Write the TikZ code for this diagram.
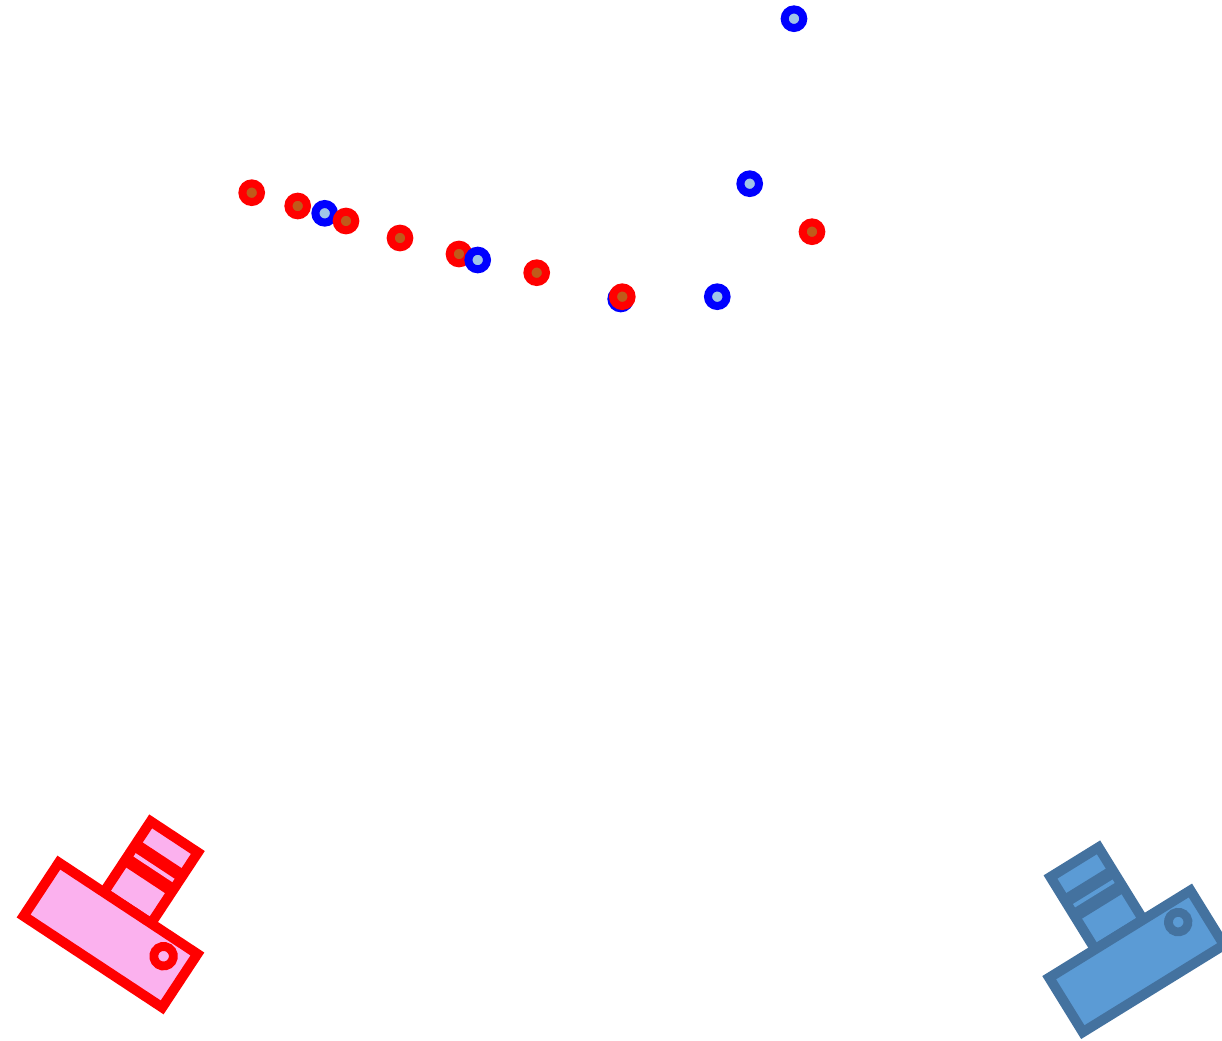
\documentclass[tikz,border=0pt]{standalone}
\begin{document}
\definecolor{camred}{HTML}{FF0000}
\definecolor{campink}{HTML}{FBB1EE}
\definecolor{camsteel}{HTML}{44729F}
\definecolor{camsky}{HTML}{5B9BD5}
\definecolor{dotred}{HTML}{FF0000}
\definecolor{dotrust}{HTML}{C05A1A}
\definecolor{dotblue}{HTML}{0000FF}
\definecolor{dotpale}{HTML}{A0C4E8}
\begin{tikzpicture}[x=0.75pt,y=-0.75pt,
  reddot/.style={circle,inner sep=0pt,minimum size=13.95pt,line width=6pt,draw=dotred,fill=dotrust},
  bluedot/.style={circle,inner sep=0pt,minimum size=13.95pt,line width=6pt,draw=dotblue,fill=dotpale},
  pics/camera/.style 2 args={code={
    % viewfinder housing
    \draw[line width=7.5pt,draw=#1,fill=#2,line join=miter] (-29,-117) rectangle (27.5,-32);
    % divider between the two windows, with its thin light slit
    \fill[#1] (-29,-95) rectangle (27.5,-65);
    \fill[#2] (-24,-82.2) rectangle (22.5,-78.2);
    % main body
    \draw[line width=7.5pt,draw=#1,fill=#2,line join=miter] (-83,-32) rectangle (83,32);
    % lens
    \draw[line width=6.6pt,draw=#1,fill=#2] (56,-11.5) circle (9.8);
  }}]
\useasboundingbox (0,0) rectangle (1222,1041);
\clip (0,0) rectangle (1222,1041);

% cameras
\pic[rotate=-33.4] at (110.5,935) {camera={camred}{campink}};
\pic[rotate=31.7] at (1136.6,961.3) {camera={camsteel}{camsky}};

% points lying underneath others
\node[bluedot] (b2) at (324.7,213.3) {};
\node[bluedot] (b4) at (620.7,299) {};

% red points
\node[reddot] (r1) at (251.7,192.7) {};
\node[reddot] (r2) at (297.7,206) {};
\node[reddot] (r3) at (346,221) {};
\node[reddot] (r4) at (400,238) {};
\node[reddot] (r5) at (459,254) {};
\node[reddot] (r6) at (536.7,272.7) {};
\node[reddot] (r7) at (622.3,296.7) {};
\node[reddot] (r8) at (812,231.7) {};

% remaining blue points
\node[bluedot] (b1) at (794,18.7) {};
\node[bluedot] (b3) at (477.7,260) {};
\node[bluedot] (b5) at (717.3,296.7) {};
\node[bluedot] (b6) at (749.7,183.7) {};
\end{tikzpicture}
\end{document}
